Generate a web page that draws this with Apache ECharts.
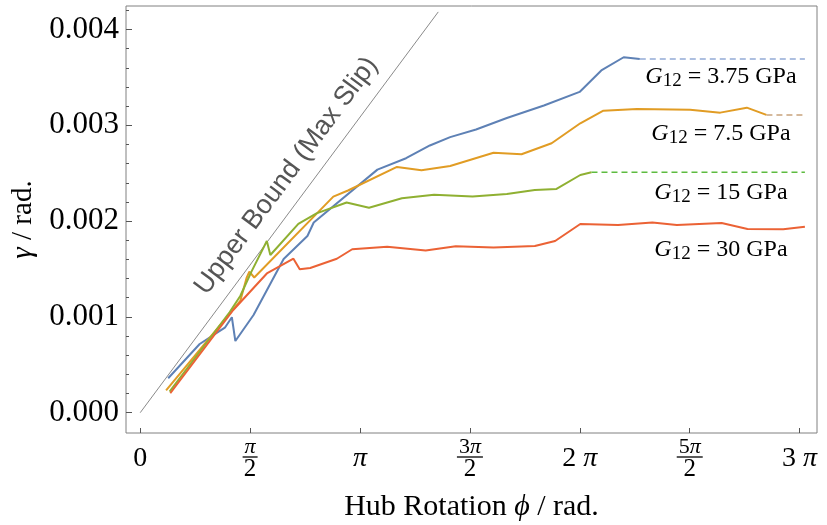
<!DOCTYPE html>
<html><head><meta charset="utf-8">
<script src="https://cdn.jsdelivr.net/npm/echarts@6/dist/echarts.min.js"></script>
<style>html,body{margin:0;padding:0;background:#fff}#c{width:827px;height:525px}</style>
</head><body><div id="c"></div>
<script>
const PI = Math.PI;
// ---- data (phi in rad, gamma in rad) ----
const blueX = [0.40,0.85,1.21,1.31,1.36,1.62,2.05,2.39,2.48,3.39,3.80,4.14,4.43,4.80,5.24,5.77,6.28,6.59,6.91,7.14];
const blueY = [0.000359,0.000717,0.000887,0.000996,0.000748,0.001020,0.001604,0.001844,0.001985,0.002537,0.002656,0.002789,0.002876,0.002956,0.003076,0.003207,0.003348,0.003572,0.003710,0.003692];
const orangeX = [0.37,1.43,1.52,1.56,1.63,2.76,2.97,3.67,4.02,4.43,5.05,5.45,5.88,6.29,6.62,7.10,7.86,8.29,8.67,8.95];
const orangeY = [0.000232,0.001166,0.001406,0.001472,0.001411,0.002255,0.002319,0.002565,0.002530,0.002575,0.002714,0.002697,0.002812,0.003021,0.003152,0.003170,0.003163,0.003132,0.003184,0.003108];
const greenX = [0.42,1.28,1.43,1.59,1.81,1.86,2.26,2.52,2.95,3.27,3.74,4.20,4.75,5.24,5.64,5.95,6.29,6.45];
const greenY = [0.000219,0.001051,0.001218,0.001472,0.001792,0.001646,0.001970,0.002081,0.002194,0.002140,0.002238,0.002276,0.002257,0.002283,0.002325,0.002335,0.002481,0.002509];
const redX = [0.43,1.33,1.81,2.19,2.28,2.43,2.81,3.03,3.53,4.08,4.51,5.05,5.64,5.93,6.29,6.83,7.32,7.67,8.31,8.68,9.19,9.50];
const redY = [0.000203,0.001072,0.001453,0.001608,0.001497,0.001510,0.001607,0.001706,0.001733,0.001693,0.001737,0.001724,0.001740,0.001792,0.001970,0.001959,0.001985,0.001959,0.001980,0.001918,0.001914,0.001942];
const dashEndX = 9.50;
const boundSlope = 0.000982;
const boundEndX = 4.26;
const curveNames = ['3.75','7.5','15','30'];
const curveLabelX = 8.30;
const curveLabelY = [0.003504, 0.002909, 0.002293, 0.001698];

const yTickValues = [0, 0.001, 0.002, 0.003, 0.004];
const yTickLabels = ['0.000','0.001','0.002','0.003','0.004'];
const yMinorValues = [0.0002,0.0004,0.0006,0.0008,0.0012,0.0014,0.0016,0.0018,0.0022,0.0024,0.0026,0.0028,0.0032,0.0034,0.0036,0.0038,0.0042];
const xTickValues = [0, PI/2, PI, 3*PI/2, 2*PI, 5*PI/2, 3*PI];
const xTickLabels = ['0', '{n|π}\n{b| }\n{d|2}', '{i|π}', '{nr|3}{n|π}\n{bw| }\n{d|2}', '{r|2 }{i|π}', '{nr|5}{n|π}\n{bw| }\n{d|2}', '{r|3 }{i|π}'];

const xMin = -0.2030, xMax = 9.673;
const yMin = -0.000212, yMax = 0.004245;

const SERIF = 'Liberation Serif';
const colors = {blue:'#5E81B5', orange:'#E19C24', green:'#8FB032', red:'#EB6235'};
const dashColors = {blue:'#93ABD6', orange:'#C8A37C', green:'#5DBB3F'};

function pairs(xs, ys){ return xs.map((x,i)=>[x, ys[i]]); }
function lastPair(xs, ys){ return [xs[xs.length-1], ys[ys.length-1]]; }
function dashPairs(xs, ys){ const p = lastPair(xs, ys); return [p, [dashEndX, p[1]]]; }

const chart = echarts.init(document.getElementById('c'), null, {renderer:'canvas'});
const lineS = (name, data, color, w, z) => ({type:'line', name, data, showSymbol:false, symbol:'none', lineStyle:{color, width:w}, itemStyle:{color}, z, animation:false, silent:true});
const dashS = (data, color) => ({type:'line', data, showSymbol:false, symbol:'none', lineStyle:{color, width:1.5, type:[6,4]}, z:2, animation:false, silent:true});

chart.setOption({
  animation:false,
  backgroundColor:'#fff',
  grid:{left:126, right:10, top:6, bottom:92, show:true, borderColor:'#808080', borderWidth:1, containLabel:false, outerBoundsMode:'none'},
  xAxis:{type:'value', min:xMin, max:xMax, position:'bottom',
    axisLine:{show:false, onZero:false}, splitLine:{show:false},
    axisTick:{show:true, inside:true, length:5, customValues:xTickValues, lineStyle:{color:'#555'}},
    axisLabel:{customValues:xTickValues, margin:26, verticalAlign:'middle', color:'#000', fontFamily:SERIF, fontSize:28,
      formatter:(v)=>xTickLabels[Math.round(v/(PI/2))] ,
      rich:{
        r:{fontFamily:SERIF, fontSize:28, color:'#000'},
        i:{fontFamily:SERIF, fontSize:28, fontStyle:'italic', color:'#000'},
        n:{fontFamily:SERIF, fontSize:22, fontStyle:'italic', color:'#000', lineHeight:16},
        nr:{fontFamily:SERIF, fontSize:22, color:'#000', lineHeight:16},
        b:{width:15, height:1.3, backgroundColor:'#000', lineHeight:4, fontSize:2},
        bw:{width:26, height:1.3, backgroundColor:'#000', lineHeight:4, fontSize:2},
        d:{fontFamily:SERIF, fontSize:25, color:'#000', lineHeight:20}
      }},
    name:'Hub Rotation {i|ϕ} / rad.', nameLocation:'middle', nameGap:59,
    nameTextStyle:{fontFamily:SERIF, fontSize:30, color:'#000',
      rich:{i:{fontFamily:SERIF, fontSize:30, fontStyle:'italic', color:'#000'}}}
  },
  yAxis:[
    {type:'value', min:yMin, max:yMax, position:'left',
      axisLine:{show:false, onZero:false}, splitLine:{show:false},
      axisTick:{show:true, inside:true, length:6, customValues:yTickValues, lineStyle:{color:'#555'}},
      axisLabel:{customValues:yTickValues, margin:7, color:'#000', fontFamily:SERIF, fontSize:31,
        formatter:(v)=>yTickLabels[Math.round(v/0.001)]},
      name:'{i|γ} / rad.', nameLocation:'middle', nameGap:86,
      nameTextStyle:{fontFamily:SERIF, fontSize:29, color:'#000',
        rich:{i:{fontFamily:SERIF, fontSize:29, fontStyle:'italic', color:'#000'}}}
    },
    {type:'value', min:yMin, max:yMax, position:'left',
      axisLine:{show:false, onZero:false}, splitLine:{show:false},
      axisTick:{show:true, inside:true, length:3, customValues:yMinorValues, lineStyle:{color:'#555'}},
      axisLabel:{show:false}
    }
  ],
  series:[
    lineS('bound', [[0,0],[boundEndX, boundSlope*boundEndX]], '#8a8a8a', 1, 1),
    dashS(dashPairs(blueX, blueY), dashColors.blue),
    dashS(dashPairs(orangeX, orangeY), dashColors.orange),
    dashS(dashPairs(greenX, greenY), dashColors.green),
    lineS('3.75', pairs(blueX, blueY), colors.blue, 2, 3),
    lineS('7.5', pairs(orangeX, orangeY), colors.orange, 2, 4),
    lineS('15', pairs(greenX, greenY), colors.green, 2, 5),
    lineS('30', pairs(redX, redY), colors.red, 2, 6)
  ]
});

// annotations positioned from data coordinates
const p0 = chart.convertToPixel({xAxisIndex:0, yAxisIndex:0}, [0,0]);
const p1 = chart.convertToPixel({xAxisIndex:0, yAxisIndex:0}, [boundEndX, boundSlope*boundEndX]);
const dx = p1[0]-p0[0], dy = p1[1]-p0[1], len = Math.hypot(dx,dy);
const ux = dx/len, uy = dy/len;
const nx = uy, ny = -ux;
const along = 0.555*len, off = 24;
const graphics = [{
  type:'text', x:p0[0]+ux*along+nx*off, y:p0[1]+uy*along+ny*off, rotation:Math.atan2(-dy, dx), z:10,
  style:{text:'Upper Bound (Max Slip)', fontFamily:'Liberation Sans', fontSize:27, fill:'#555', align:'center', verticalAlign:'middle'}
}];
curveNames.forEach((nm,i)=>{
  const p = chart.convertToPixel({xAxisIndex:0, yAxisIndex:0}, [curveLabelX, curveLabelY[i]]);
  graphics.push({type:'text', x:p[0], y:p[1], z:10,
    style:{text:'{g|G}{s|12}{t| = '+nm+' GPa}', align:'center', verticalAlign:'middle',
      rich:{
        g:{fontFamily:SERIF, fontSize:24, fontStyle:'italic', fill:'#000', lineHeight:27},
        s:{fontFamily:SERIF, fontSize:19, fill:'#000', lineHeight:19, verticalAlign:'bottom'},
        t:{fontFamily:SERIF, fontSize:24, fill:'#000', lineHeight:27}
      }}});
});
chart.setOption({graphic:graphics});
</script></body></html>
